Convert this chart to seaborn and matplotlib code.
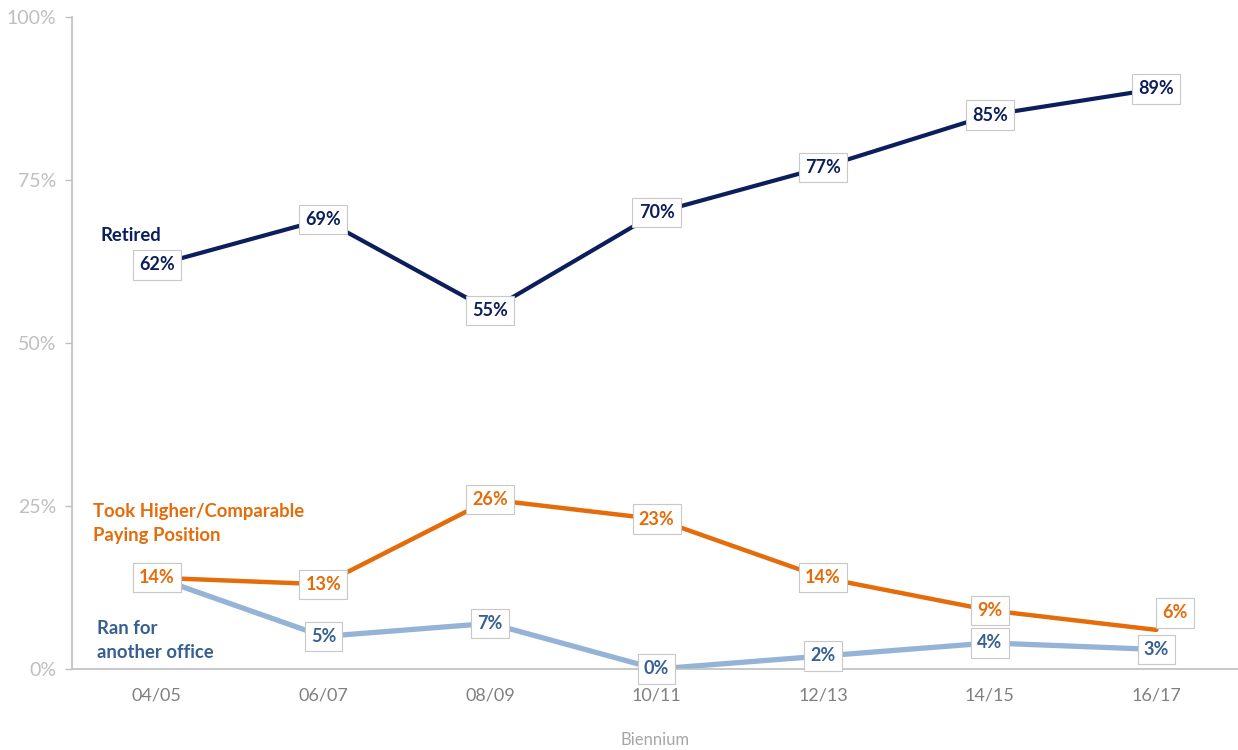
import matplotlib
matplotlib.use("Agg")
import matplotlib.pyplot as plt
import seaborn as sns
import pandas as pd

# data
biennium = ["04/05", "06/07", "08/09", "10/11", "12/13", "14/15", "16/17"]
retired = [62, 69, 55, 70, 77, 85, 89]
took_higher = [14, 13, 26, 23, 14, 9, 6]
ran_office = [14, 5, 7, 0, 2, 4, 3]

series_names = ["Retired", "Took Higher/Comparable\nPaying Position", "Ran for\nanother office"]
line_colors = ["#0c1f5c", "#e46c0a", "#95b3d7"]
text_colors = ["#0c1f5c", "#e46c0a", "#366092"]

sns.set_style("white")
plt.rcParams["font.family"] = ["Lato", "DejaVu Sans"]

df = pd.DataFrame({
    "Biennium": biennium * 3,
    "x": list(range(len(biennium))) * 3,
    "value": retired + took_higher + ran_office,
    "series": [series_names[0]] * 7 + [series_names[1]] * 7 + [series_names[2]] * 7,
})

fig = plt.figure(figsize=(12.38, 7.5), dpi=100)
ax = fig.add_axes([0.058, 0.108, 0.942, 0.869])

widths = {series_names[0]: 3.0, series_names[1]: 3.2, series_names[2]: 3.8}
zorders = {series_names[0]: 4, series_names[1]: 3, series_names[2]: 2}
for name in series_names:
    sub = df[df["series"] == name]
    sns.lineplot(data=sub, x="x", y="value", color=line_colors[series_names.index(name)],
                 linewidth=widths[name], ax=ax, legend=False, zorder=zorders[name])

# data labels in white boxes
box = dict(boxstyle="square,pad=0.34", facecolor="white", edgecolor="#c8c8c8", linewidth=0.8)
label_z = {0: 12, 1: 11, 2: 10}
for k in range(3):
    sub = df[df["series"] == series_names[k]]
    for j, (xv, yv) in enumerate(zip(sub["x"], sub["value"])):
        dx, dy = 0, 0
        if k == 1 and j == len(biennium) - 1:
            dx, dy = 0.11, 2.6
        ax.text(xv + dx, yv + dy, f"{yv}%", ha="center", va="center", fontsize=13,
                fontweight="bold", color=text_colors[k], bbox=box, zorder=label_z[k])

# series names
ax.text(-0.34, 66.5, series_names[0], fontsize=13.3, fontweight="bold", color=text_colors[0],
        ha="left", va="center")
ax.text(-0.38, 22.3, series_names[1], fontsize=13.3, fontweight="bold", color=text_colors[1],
        ha="left", va="center", linespacing=1.5)
ax.text(-0.36, 4.3, series_names[2], fontsize=13.3, fontweight="bold", color=text_colors[2],
        ha="left", va="center", linespacing=1.5)

ax.set_xlim(-0.51, 6.49)
ax.set_ylim(0, 100)
ax.set_xticks(range(len(biennium)))
ax.set_xticklabels(biennium)
ax.set_yticks([0, 25, 50, 75, 100])
ax.set_yticklabels(["0%", "25%", "50%", "75%", "100%"])
ax.tick_params(axis="x", length=0, labelsize=13, labelcolor="#808080", pad=13)
ax.tick_params(axis="y", length=5, width=1, color="#bfbfbf", labelsize=14,
               labelcolor="#bfbfbf", pad=6, left=True)
ax.set_xlabel("Biennium", fontsize=12, color="#a6a6a6", labelpad=21)
ax.set_ylabel("")
for side in ["top", "right"]:
    ax.spines[side].set_visible(False)
for side in ["left", "bottom"]:
    ax.spines[side].set_color("#bfbfbf")
    ax.spines[side].set_linewidth(1.2)

fig.savefig("out.png", dpi=100)
